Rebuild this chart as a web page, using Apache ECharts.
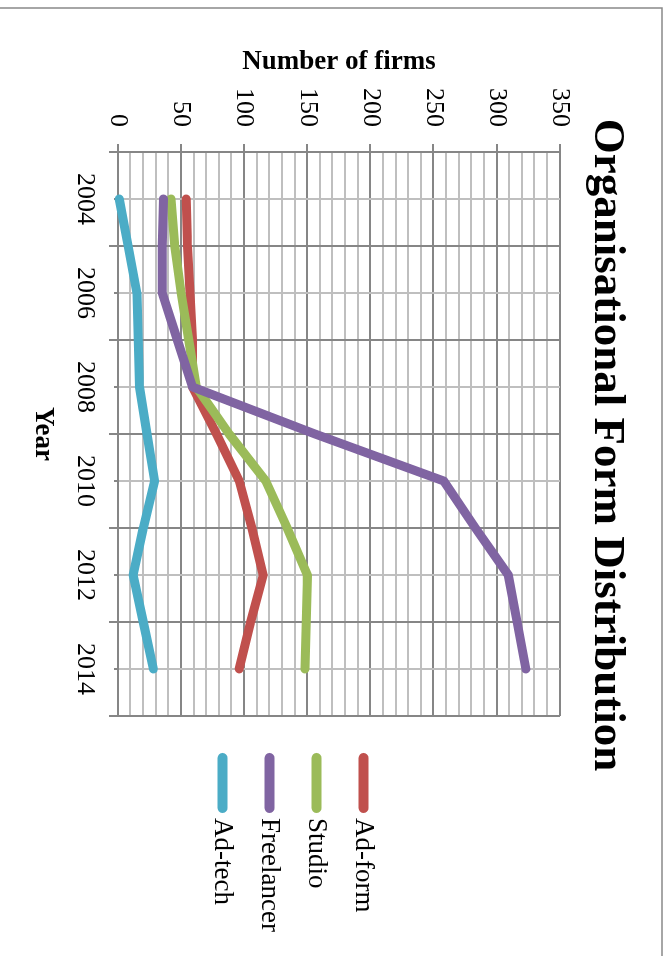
<!DOCTYPE html>
<html>
<head>
<meta charset="utf-8">
<script src="https://cdn.jsdelivr.net/npm/echarts@6/dist/echarts.min.js"></script>
<style>
  html, body { margin: 0; padding: 0; background: #ffffff; overflow: hidden; width: 669px; height: 956px; }
  /* The chart is laid out landscape and turned a quarter clockwise onto the portrait page */
  #chart {
    position: absolute; left: 0; top: 0;
    width: 956px; height: 669px;
    transform-origin: 0 0;
    transform: translate(669px, 0) rotate(90deg);
    background: #ffffff;
  }
</style>
</head>
<body>
<div id="chart"></div>
<script>
// Years on the horizontal axis
const years = [2004, 2005, 2006, 2007, 2008, 2009, 2010, 2011, 2012, 2013, 2014];
// Number of firms per organisational form
const adForm     = [54, 55, 57, 59, 59, 78, 96, 106, 115, 105, 96];
const studio     = [42, 45, 50, 56, 62, 88, 117, 134, 150, 149, 148];
const freelancer = [36, 35, 35, 47, 59, 156, 258, 283, 309, 316, 323];
const adTech     = [1, 8, 15, 16, 17, 23, 29, 20, 12, 20, 28];

const seriesNames  = ['Ad-form', 'Studio', 'Freelancer', 'Ad-tech'];
const seriesColors = ['#C0504D', '#9BBB59', '#8064A2', '#4BACC6'];

// Tick labels
const yearLabels = [2004, 2006, 2008, 2010, 2012, 2014];
const firmLabels = [0, 50, 100, 150, 200, 250, 300, 350];

const yearMin = 2003, yearMax = 2015;
const firmMin = 0, firmMax = 350, firmStep = 50;

// Long ticks sit on the odd years, between the labelled years
const longTickYears = [];
for (let y = yearMin; y <= yearMax; y += 2) longTickYears.push(y);

const serif = 'Liberation Serif';
const darkGrid = '#868686';
const lightGrid = '#BFBFBF';

const valuesBySeries = [adForm, studio, freelancer, adTech];

const chart = echarts.init(document.getElementById('chart'), null, { renderer: 'canvas' });

chart.setOption({
  backgroundColor: '#ffffff',
  animation: false,
  title: {
    text: 'Organisational Form Distribution',
    left: 445,
    top: 40,
    textAlign: 'center',
    padding: 0,
    textStyle: { fontFamily: serif, fontSize: 45, fontWeight: 'bold', color: '#000000' }
  },
  legend: {
    orient: 'vertical',
    left: 753,
    top: 292,
    padding: 0,
    itemWidth: 60,
    itemHeight: 10,
    itemGap: 20,
    icon: 'path://M5,0 L55,0 A5,5 0 0 1 55,10 L5,10 A5,5 0 0 1 5,0 Z',
    data: seriesNames,
    textStyle: { fontFamily: serif, fontSize: 27, color: '#000000', lineHeight: 27 }
  },
  graphic: [{
    type: 'rect',
    silent: true,
    shape: { x: 8, y: 7, width: 1000, height: 700 },
    style: { fill: 'none', stroke: '#898989', lineWidth: 1.5 },
    z: 100
  }],
  grid: { left: 152, right: 240, top: 109, bottom: 118, containLabel: false },
  xAxis: [{
    type: 'value',
    min: yearMin,
    max: yearMax,
    interval: 1,
    name: 'Year',
    nameLocation: 'middle',
    nameGap: 62,
    nameTextStyle: { fontFamily: serif, fontSize: 27, fontWeight: 'bold', color: '#000000' },
    axisLine: { show: true, onZero: false, lineStyle: { color: darkGrid, width: 2 } },
    axisTick: { show: true, length: 4, lineStyle: { color: darkGrid, width: 2 } },
    axisLabel: {
      margin: 20,
      fontFamily: serif, fontSize: 26, color: '#000000',
      formatter: v => (yearLabels.indexOf(v) >= 0 ? String(v) : '')
    },
    splitLine: { show: true, lineStyle: { color: [darkGrid, lightGrid], width: 2 } }
  }, {
    // Second year axis only carries the longer ticks
    type: 'value',
    min: yearMin,
    max: yearMax,
    position: 'bottom',
    axisLine: { show: false },
    axisTick: { show: true, length: 9, customValues: longTickYears, lineStyle: { color: darkGrid, width: 2 } },
    axisLabel: { show: false },
    splitLine: { show: false }
  }],
  yAxis: {
    type: 'value',
    min: firmMin,
    max: firmMax,
    interval: firmStep,
    name: 'Number of firms',
    nameLocation: 'middle',
    nameGap: 76,
    nameTextStyle: { fontFamily: serif, fontSize: 27, fontWeight: 'bold', color: '#000000' },
    axisLine: { show: true, lineStyle: { color: darkGrid, width: 2 } },
    axisTick: { show: true, length: 8, lineStyle: { color: darkGrid, width: 2 } },
    axisLabel: {
      margin: 25,
      fontFamily: serif, fontSize: 26, color: '#000000',
      formatter: v => (firmLabels.indexOf(v) >= 0 ? String(v) : '')
    },
    splitLine: { show: true, lineStyle: { color: darkGrid, width: 2 } },
    minorTick: { show: false, splitNumber: 5 },
    minorSplitLine: { show: true, lineStyle: { color: lightGrid, width: 2 } }
  },
  series: seriesNames.map((name, i) => ({
    name: name,
    type: 'line',
    xAxisIndex: 0,
    showSymbol: false,
    symbol: 'none',
    color: seriesColors[i],
    lineStyle: { width: 9, color: seriesColors[i], cap: 'round', join: 'round' },
    data: years.map((y, k) => [y, valuesBySeries[i][k]])
  }))
});
</script>
</body>
</html>
